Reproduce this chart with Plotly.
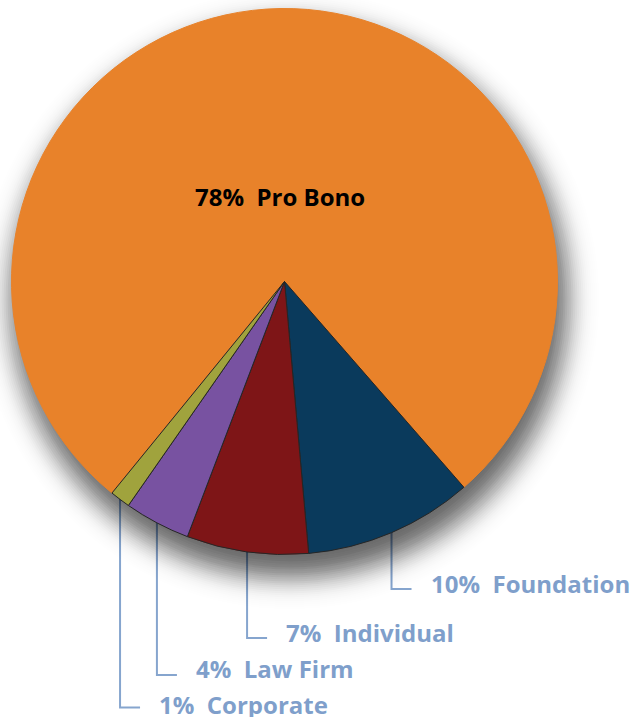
import math
import plotly.graph_objects as go

# ---- data ----
categories = ["Pro Bono", "Foundation", "Individual", "Law Firm", "Corporate"]
shares = [77.7, 10.0, 7.2, 3.9, 1.2]
pct_labels = ["78%", "10%", "7%", "4%", "1%"]

# ---- style / layout ----
colors = ["#E8822A", "#0A3A5C", "#7E1517", "#7852A1", "#A0A33D"]
label_color = "#7F9FCB"
line_color = "#86A5CE"
W, H = 633, 719
CX, CY, R = 284.5, 281.5, 273
ROT = 219.2
elbow_y = [589, 638, 675, 707.5]      # px, for slices 1..4
text_y = [583, 632, 668, 704]         # px
FONT = "Open Sans"
FS = 24


def px(x):
    return x / W


def py(y):
    return 1 - y / H


fig = go.Figure(go.Pie(
    labels=categories, values=shares, sort=False, direction="clockwise",
    rotation=ROT,
    marker=dict(colors=colors,
                line=dict(color=[colors[0]] + ["#262626"] * 4, width=1)),
    textinfo="none", hoverinfo="label+percent",
    domain=dict(x=[px(CX - R), px(CX + R)], y=[py(CY + R), py(CY - R)]),
    showlegend=False,
))

# mid angles (clockwise from 12 o'clock)
total = sum(shares)
mids = []
acc = ROT
for v in shares:
    span = 360 * v / total
    mids.append(acc + span / 2)
    acc += span

shapes = []
annotations = []

# leader lines (drawn under the shadow and pie)
for j, i in enumerate(range(1, len(categories))):
    m = math.radians(mids[i])
    xl = CX + R * math.sin(m)
    yt = CY - (R - 8) * math.cos(m)
    ye = elbow_y[j]
    path = f"M {px(xl)},{py(yt)} L {px(xl)},{py(ye)} L {px(xl + 20)},{py(ye)}"
    shapes.append(dict(type="path", xref="paper", yref="paper", layer="below",
                       path=path, line=dict(color=line_color, width=2)))
    annotations.append(dict(
        x=px(xl + 37), y=py(text_y[j]), xref="paper", yref="paper",
        xanchor="left", yanchor="middle", showarrow=False, height=26,
        text=f"{pct_labels[i]}\u00a0\u00a0{categories[i]}",
        font=dict(family=FONT, size=FS, color=label_color, weight="bold")))

# soft drop shadow: stacked translucent discs approximating a gaussian blur
DX, DY, SIG, AMAX = 5, 18, 15.0, 0.6
L = -math.log(1 - AMAX)
step = 2.0
s = -3 * SIG
while s <= 3 * SIG:
    pdf = math.exp(-0.5 * (s / SIG) ** 2) / (SIG * math.sqrt(2 * math.pi))
    a = 1 - math.exp(-L * pdf * step)
    rr = R + s
    shapes.append(dict(type="circle", xref="paper", yref="paper", layer="below",
                       x0=px(CX + DX - rr), x1=px(CX + DX + rr),
                       y0=py(CY + DY + rr), y1=py(CY + DY - rr),
                       fillcolor=f"rgba(0,0,0,{a:.4f})", line=dict(width=0)))
    s += step

# main slice label
m0 = math.radians(mids[0])
annotations.append(dict(
    x=px(CX + 0.31 * R * math.sin(m0) - 3), y=py(CY - 0.31 * R * math.cos(m0)),
    xref="paper", yref="paper", xanchor="center", yanchor="middle",
    showarrow=False,
    text=f"{pct_labels[0]}\u00a0\u00a0{categories[0]}",
    font=dict(family=FONT, size=FS, color="#000000", weight="bold")))

fig.update_layout(width=W, height=H, autosize=False,
                  margin=dict(l=0, r=0, t=0, b=0),
                  paper_bgcolor="white", plot_bgcolor="white",
                  shapes=shapes, annotations=annotations)

fig.write_html("out.html",
               config={"displayModeBar": False},
               post_script="document.body.style.margin='0';"
                           "document.body.style.overflow='hidden';")
